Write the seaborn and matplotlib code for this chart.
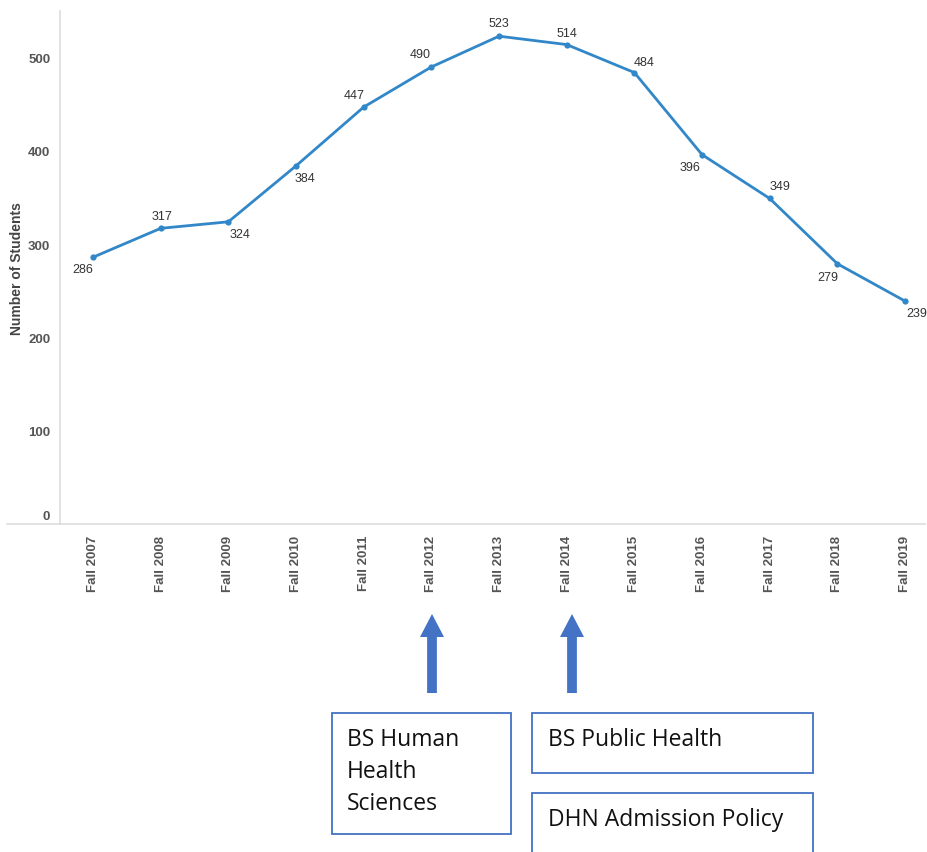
import matplotlib
matplotlib.use("Agg")
import matplotlib.pyplot as plt
from matplotlib.patches import Rectangle, FancyArrow
from matplotlib.lines import Line2D
from matplotlib.transforms import ScaledTranslation
import seaborn as sns
import pandas as pd

terms = ["Fall 2007", "Fall 2008", "Fall 2009", "Fall 2010", "Fall 2011", "Fall 2012",
         "Fall 2013", "Fall 2014", "Fall 2015", "Fall 2016", "Fall 2017", "Fall 2018", "Fall 2019"]
students = [286, 317, 324, 384, 447, 490, 523, 514, 484, 396, 349, 279, 239]
# value label offsets from each point, in pixels
label_dx = [-10, 1, 12, 9, -10, -11, 0, 0, 10, -12, 10, -10, 12]
label_dy = [-12, 12, -12, -12, 12, 13, 13, 12, 11, -12, 12, -13, -12]

y_ticks = [0, 100, 200, 300, 400, 500]

events_left = ["BS Human", "Health", "Sciences"]
event_mid = "BS Public Health"
event_low = "DHN Admission Policy"

sns.set_theme(style="white")
plt.rcParams["font.family"] = ["Liberation Sans", "DejaVu Sans"]

W, H = 927, 853
fig = plt.figure(figsize=(W / 100, H / 100), dpi=100)

def fx(px):
    return px / W

def fy(py):
    return 1 - py / H

ax = fig.add_axes([fx(60), fy(525), fx(925) - fx(60), fy(12) - fy(525)])

df = pd.DataFrame({"term": terms, "students": students})
line_color = "#3287c8"
sns.lineplot(data=df, x="term", y="students", ax=ax, color=line_color,
             linewidth=2.0, marker="o", markersize=4.5, markeredgewidth=0, sort=False)

for i, (v, dx, dy) in enumerate(zip(students, label_dx, label_dy)):
    ax.annotate(str(v), (i, v), xytext=(dx, dy), textcoords="offset pixels",
                ha="center", va="center", fontsize=9, color="#333333",
                annotation_clip=False)

ax.set_yticks(y_ticks)
ax.set_yticklabels([str(t) for t in y_ticks], fontsize=9.5, fontweight="bold", color="#555555")
ax.set_xticks(range(len(terms)))
ax.set_xticklabels(terms, rotation=90, fontsize=9.5, fontweight="bold", color="#555555")
ax.set_xticks([i - 0.5 for i in range(1, len(terms))], minor=True)
ax.set_xlim(-0.488, 12.295)
ax.set_ylim(0, 550)
ax.tick_params(axis="x", which="major", length=0, pad=8)
ax.tick_params(axis="x", which="minor", length=4, color="#dddddd", width=1)
ax.tick_params(axis="y", which="major", length=4, color="#dddddd", width=1, pad=3)
ax.set_xlabel("")
ax.set_ylabel("Number of Students", fontsize=10, fontweight="bold", color="#444444", labelpad=3)

# the zero label sits just above the baseline
zero_label = ax.get_yticklabels()[0]
zero_label.set_transform(zero_label.get_transform() + ScaledTranslation(0, 0.09, fig.dpi_scale_trans))

for s in ["top", "right"]:
    ax.spines[s].set_visible(False)
for s in ["left", "bottom"]:
    ax.spines[s].set_color("#dddddd")
    ax.spines[s].set_linewidth(1.2)

# extend the baseline to the left under the axis labels
fig.add_artist(Line2D([fx(7), fx(60)], [fy(525), fy(525)], transform=fig.transFigure,
                      color="#dddddd", linewidth=1.2))

# arrows pointing up to the program launch years
arrow_color = "#4472c4"
for px in (432, 572):
    fig.add_artist(FancyArrow(fx(px), fy(694), 0, fy(615) - fy(694), width=9 / H,
                              head_width=24 / W, head_length=23 / H, length_includes_head=True,
                              transform=fig.transFigure, color=arrow_color, linewidth=0))

# event boxes
def box(x0, y0, x1, y1):
    fig.add_artist(Rectangle((fx(x0), fy(y1)), fx(x1) - fx(x0), fy(y0) - fy(y1),
                             transform=fig.transFigure, fill=False, edgecolor=arrow_color,
                             linewidth=1.3))

box(332, 714, 511, 835)
box(532, 714, 813, 774)
box(532, 794, 813, 860)

box_font = dict(fontsize=16.5, color="#111111", family=["Open Sans", "DejaVu Sans"], va="center")
for k, t in enumerate(events_left):
    fig.text(fx(347), fy(740 + 32 * k), t, **box_font)
fig.text(fx(548), fy(740), event_mid, **box_font)
fig.text(fx(548), fy(820), event_low, **box_font)

fig.savefig("out.png", dpi=100)
